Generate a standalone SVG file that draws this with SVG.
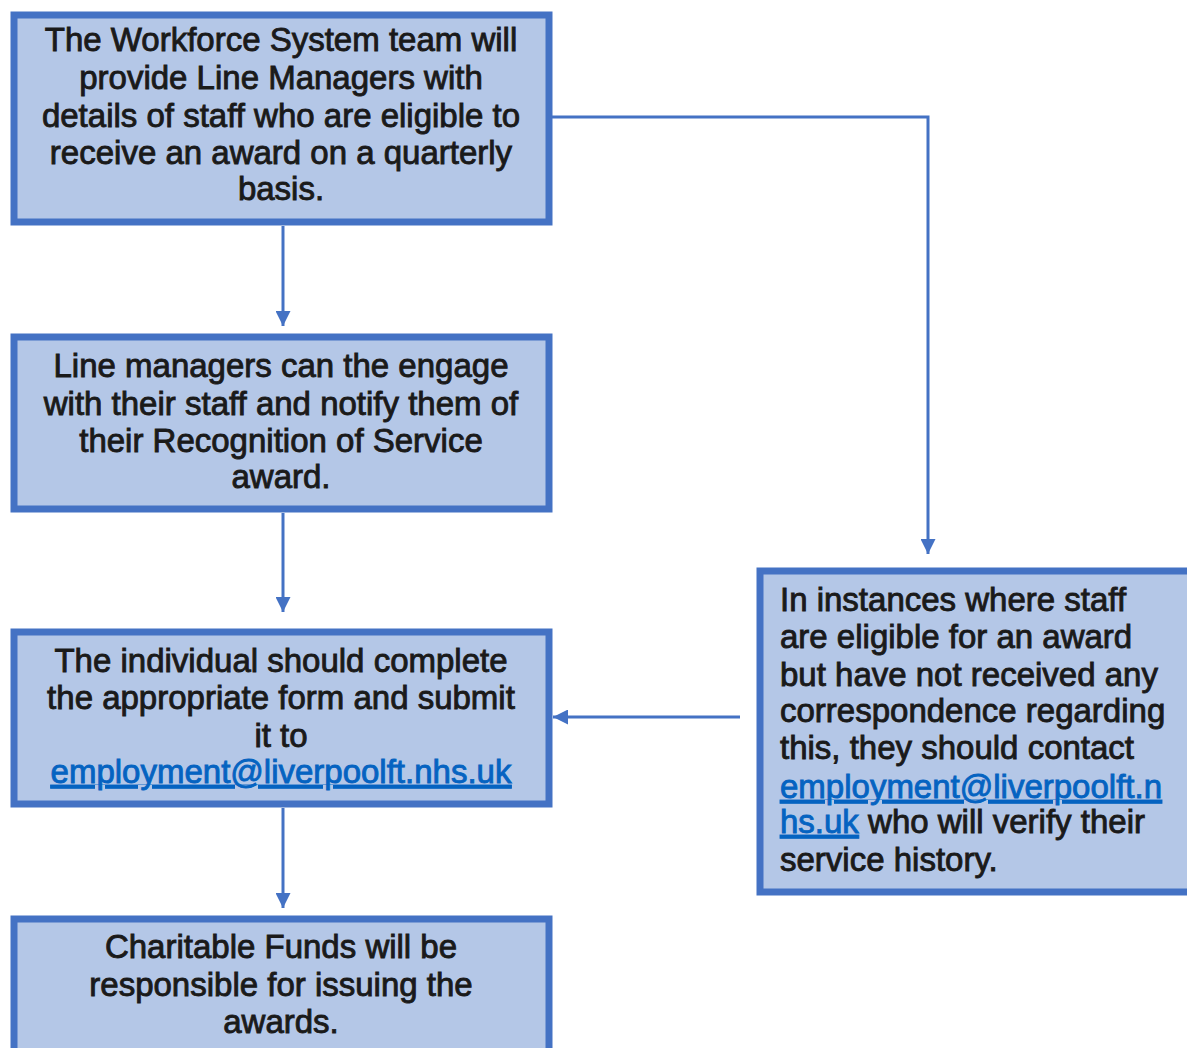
<svg xmlns="http://www.w3.org/2000/svg" width="1187" height="1048" viewBox="0 0 1187 1048">
<defs>
<marker id="ah" viewBox="0 0 10 10" refX="10" refY="5" markerWidth="5" markerHeight="5" markerUnits="strokeWidth" orient="auto">
<path d="M0,0 L10,5 L0,10 Z" fill="#4472c4"/>
</marker>
<style>
.box{fill:#b4c7e7;stroke:#4472c4;stroke-width:7}
.t{font-family:"Liberation Sans",Arial,sans-serif;font-size:33px;fill:#1a1a1a;stroke:#1a1a1a;stroke-width:0.9}
.c{text-anchor:middle}
.lnk{fill:#0563c1;stroke:#0563c1;text-decoration:underline}
.conn{fill:none;stroke:#4472c4;stroke-width:3}
</style>
</defs>
<rect width="1187" height="1048" fill="#ffffff"/>
<g id="connectors">
<path class="conn" d="M283,226 V326" marker-end="url(#ah)"/>
<path class="conn" d="M283,513 V612" marker-end="url(#ah)"/>
<path class="conn" d="M283,808 V908" marker-end="url(#ah)"/>
<path class="conn" d="M552,117 H928 V554" marker-end="url(#ah)"/>
<path class="conn" d="M740,717 H553" marker-end="url(#ah)"/>
</g>
<g id="node1">
<rect class="box" x="14" y="15" width="535" height="207"/>
<text class="t c" x="281" y="51">The Workforce  System team will</text>
<text class="t c" x="281" y="89">provide Line Managers with</text>
<text class="t c" x="281" y="127">details of staff who are eligible to</text>
<text class="t c" x="281" y="164">receive an award on a quarterly</text>
<text class="t c" x="281" y="200">basis.</text>
</g>
<g id="node2">
<rect class="box" x="14" y="337" width="535" height="172"/>
<text class="t c" x="281" y="377">Line managers can the engage</text>
<text class="t c" x="281" y="415">with their staff and notify them of</text>
<text class="t c" x="281" y="452">their Recognition of  Service</text>
<text class="t c" x="281" y="488">award.</text>
</g>
<g id="node3">
<rect class="box" x="14" y="632" width="535" height="172"/>
<text class="t c" x="281" y="672">The individual should complete</text>
<text class="t c" x="281" y="709">the appropriate form and submit</text>
<text class="t c" x="281" y="747">it to</text>
<text class="t c lnk" x="281" y="783">employment@liverpoolft.nhs.uk</text>
</g>
<g id="node4">
<rect class="box" x="14" y="919" width="535" height="140"/>
<text class="t c" x="281" y="958">Charitable Funds will be</text>
<text class="t c" x="281" y="996">responsible for issuing the</text>
<text class="t c" x="281" y="1033">awards.</text>
</g>
<g id="node5">
<rect class="box" x="760" y="571" width="440" height="321"/>
<text class="t" x="780" y="611">In instances where staff</text>
<text class="t" x="780" y="648">are eligible for an award</text>
<text class="t" x="780" y="686">but have not received any</text>
<text class="t" x="780" y="722">correspondence regarding</text>
<text class="t" x="780" y="759">this, they should contact</text>
<text class="t lnk" x="780" y="798">employment@liverpoolft.n</text>
<text class="t" x="780" y="833"><tspan class="lnk">hs.uk</tspan> who will verify their</text>
<text class="t" x="780" y="871">service history.</text>
</g>
</svg>
